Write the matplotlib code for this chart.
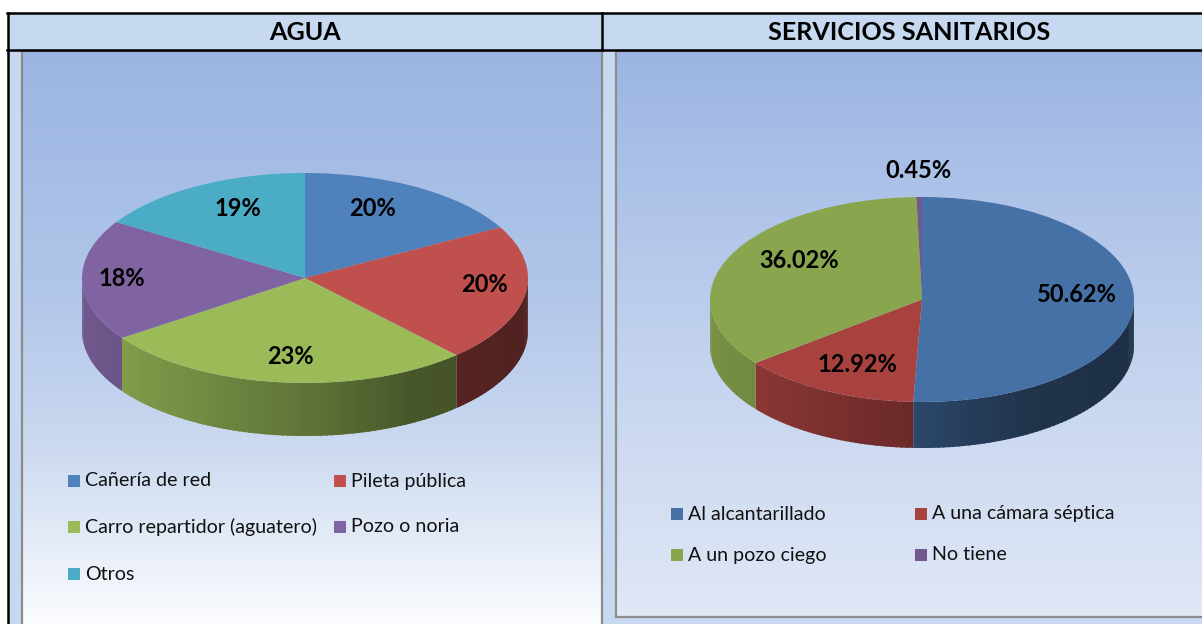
#!/usr/bin/env python3
import matplotlib
matplotlib.use('Agg')
import matplotlib.pyplot as plt
from matplotlib.colors import LinearSegmentedColormap, to_rgb
from matplotlib.patches import Rectangle
import numpy as np

W, H = 1202, 624
plt.rcParams['font.family'] = ['Lato', 'DejaVu Sans']

# --- data ---
agua_labels = ['Cañería de red', 'Pileta pública', 'Carro repartidor (aguatero)', 'Pozo o noria', 'Otros']
agua_values = [20, 20, 23, 18, 19]
agua_text = ['20%', '20%', '23%', '18%', '19%']
agua_colors = ['#4F81BD', '#C0504D', '#9BBB59', '#8064A2', '#4BACC6']

san_labels = ['Al alcantarillado', 'A una cámara séptica', 'A un pozo ciego', 'No tiene']
san_values = [50.62, 12.92, 36.02, 0.45]
san_text = ['50.62%', '12.92%', '36.02%', '0.45%']
san_colors = ['#4671A6', '#A8423F', '#89A54E', '#71588F']

# --- layout, in pixels of the picture ---
agua_pos = [(372, 208), (484, 285), (290, 357), (122, 279), (238, 208)]
san_pos = [(1077, 294), (857, 365), (799, 260), (918, 170)]
agua_legend = [(68, 481), (334, 481), (68, 527), (334, 527), (68, 574)]
san_legend = [(671, 514), (915, 514), (671, 555), (915, 555)]

fig = plt.figure(figsize=(W / 100, H / 100), dpi=100)
bg = fig.add_axes([0, 0, 1, 1])
bg.set_xlim(0, W)
bg.set_ylim(H, 0)
bg.axis('off')


def panel(x0, x1, y0, y1, stops):
    # vertical gradient, stops are (y, colour)
    span = stops[-1][0] - stops[0][0]
    cmap = LinearSegmentedColormap.from_list('p', [((y - stops[0][0]) / span, c) for y, c in stops])
    grad = np.linspace(0, 1, 256).reshape(-1, 1)
    bg.imshow(grad, cmap=cmap, extent=[x0, x1, y1, y0], aspect='auto', zorder=2)
    bg.set_xlim(0, W)
    bg.set_ylim(H, 0)
    bg.add_patch(Rectangle((x0, y0), x1 - x0, y1 - y0, fill=False, ec='#8C8C8C', lw=1.6, zorder=3))


def shade(x):
    return np.interp(x, [-1, 0, 0.5, 1], [0.88, 0.62, 0.46, 0.42])


def pie3d(values, colors, cx, cy, a, b, depth, k):
    # k bends the angles a little, near half bigger like the perspective of the original
    d = depth / b
    margin = 0.02
    left, right = cx - a * (1 + margin), cx + a * (1 + margin)
    top, bottom = cy - b * (1 + margin), cy + b * (1 + margin) + depth
    ax = fig.add_axes([left / W, 1 - bottom / H, (right - left) / W, (bottom - top) / H], zorder=5)
    cum = np.cumsum([0] + list(values)) / sum(values) * 2 * np.pi
    bent = cum - k * np.sin(cum)

    # rim first, the visible part is the front half
    for i, c in enumerate(colors):
        t0, t1 = max(bent[i], np.pi / 2), min(bent[i + 1], 3 * np.pi / 2)
        if t1 <= t0:
            continue
        ts = np.linspace(t0, t1, int((t1 - t0) * 40) + 2)
        rgb = np.array(to_rgb(c))
        for s0, s1 in zip(ts[:-1], ts[1:]):
            # every strip runs on a bit under the next one, no seams that way
            s2 = np.linspace(s0, min(s1 + 0.012, t1), 4)
            xs = np.sin(np.r_[s2, s2[::-1]])
            ys = np.r_[np.cos(s2), np.cos(s2[::-1]) - d]
            col = rgb * shade(np.sin((s0 + s1) / 2))
            ax.fill(xs, ys, color=col, lw=0)

    ax.pie(np.diff(bent), colors=colors, startangle=90, counterclock=False, radius=1,
           wedgeprops={'linewidth': 0})
    ax.set_aspect('auto')
    ax.set_xlim(-1 - margin, 1 + margin)
    ax.set_ylim(-1 - margin - d, 1 + margin)
    ax.axis('off')


def legend(labels, colors, spots):
    for lab, c, (x, y) in zip(labels, colors, spots):
        bg.add_patch(Rectangle((x, y - 6), 12, 12, fc=c, ec='none', zorder=4))
        bg.text(x + 17, y, lab, fontsize=14.1, color='#111111', va='center', ha='left', zorder=4)


# --- table ---
bg.add_patch(Rectangle((8, 13), W - 8, H - 13, fc='#C6D9F1', ec='none', zorder=1))
panel(22, 602, 51, 640, [(51, '#9BB5E3'), (300, '#B2C7E9'), (450, '#CEDBF1'), (630, '#FFFFFF')])
panel(616, 1215, 51, 617, [(51, '#9BB5E3'), (350, '#C2D2EE'), (617, '#E1E8F6')])
bg.plot([8, 8], [13, H], color='black', lw=1.8, zorder=4)
bg.plot([7, W], [13, 13], color='black', lw=1.8, zorder=4)
bg.plot([7, W], [50, 50], color='black', lw=1.8, zorder=4)
bg.plot([602, 602], [13, 50], color='black', lw=1.8, zorder=4)
bg.text(305, 33, 'AGUA', fontsize=18.1, fontweight='bold', ha='center', va='center', zorder=4)
bg.text(909, 33, 'SERVICIOS SANITARIOS', fontsize=18.1, fontweight='bold', ha='center', va='center', zorder=4)

# --- pies ---
pie3d(agua_values, agua_colors, 305, 278, 223, 105, 53, 0.2)
pie3d(san_values, san_colors, 922, 299.5, 212, 102.5, 46, 0.07)

legend(agua_labels, agua_colors, agua_legend)
legend(san_labels, san_colors, san_legend)

top = fig.add_axes([0, 0, 1, 1], zorder=6)
top.set_xlim(0, W)
top.set_ylim(H, 0)
top.axis('off')
for txt, (x, y) in zip(agua_text + san_text, agua_pos + san_pos):
    top.text(x, y, txt, fontsize=17, fontweight='bold', ha='center', va='center')

fig.savefig('out.png', dpi=100)
plt.close()
